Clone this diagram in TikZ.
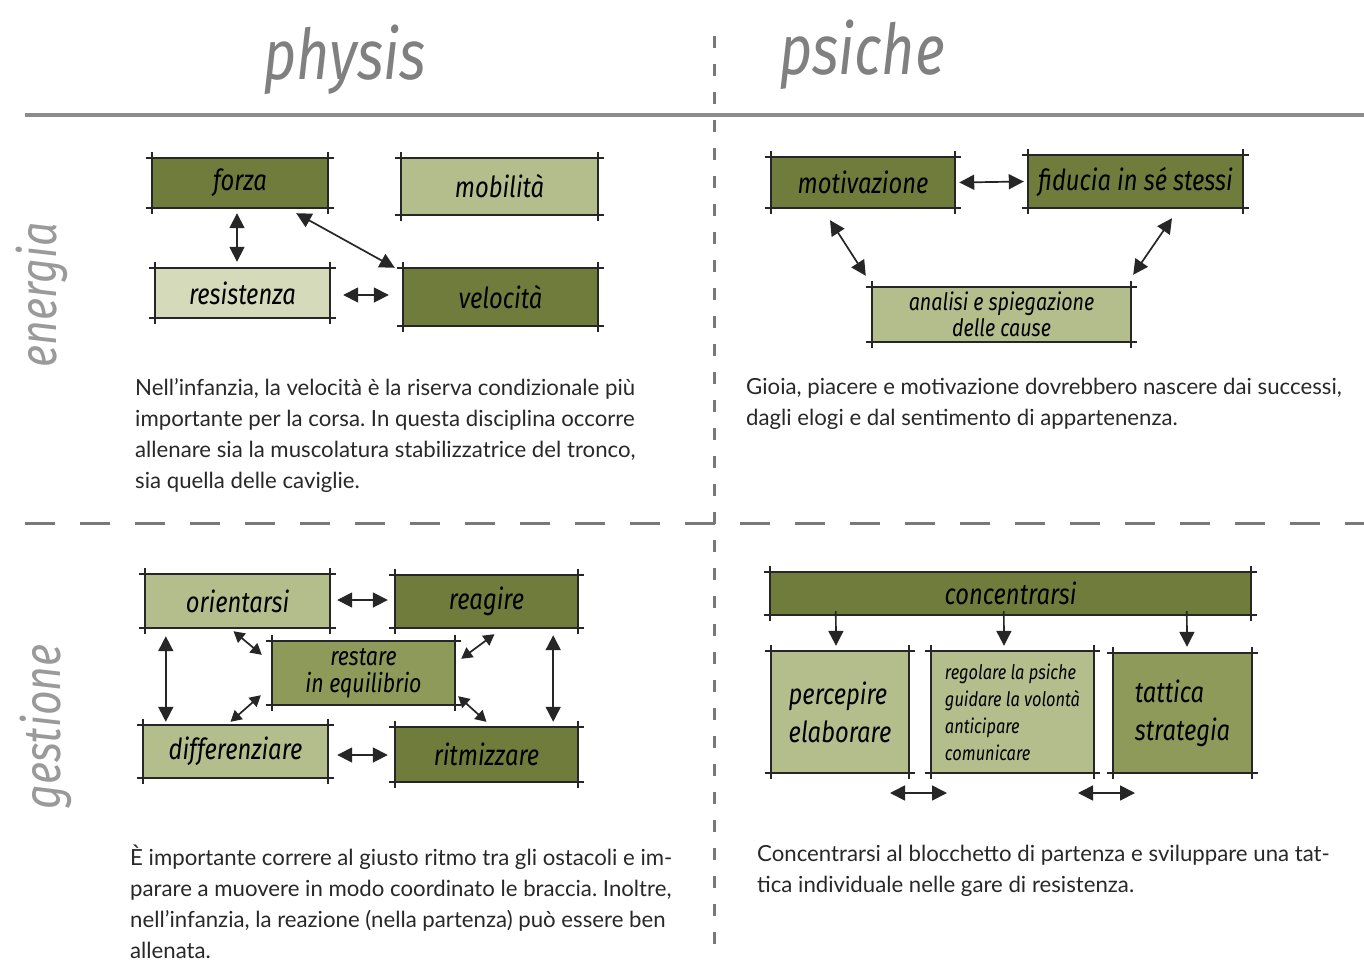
\documentclass[tikz,border=0pt]{standalone}
\usepackage{fontspec}
\setmainfont{Lato}
\newfontfamily\hand{Fira Sans}[FakeStretch=0.82]
\usetikzlibrary{arrows.meta,calc}
\definecolor{gdark}{RGB}{112,124,60}
\definecolor{gmed}{RGB}{142,154,90}
\definecolor{glight}{RGB}{180,190,140}
\definecolor{glighter}{RGB}{212,218,186}
\definecolor{headgray}{RGB}{128,128,128}
\definecolor{linegray}{RGB}{120,120,120}
\definecolor{textgray}{RGB}{40,40,40}
\frenchspacing
\tikzset{
  box/.style={fill=#1, inner sep=0pt, align=center, text=black,
    font=\hand\itshape\fontsize{29}{30}\selectfont},
  edge/.style={line width=1.8pt, black!85},
  arr/.style={line width=1.7pt, black!85,
    {Triangle[length=15pt,width=15pt]}-{Triangle[length=15pt,width=15pt]}},
  sarr/.style={line width=1.7pt, black!85,
    {Triangle[length=11pt,width=12pt]}-{Triangle[length=11pt,width=12pt]}},
  darr/.style={line width=1.7pt, black!85, -{Triangle[length=15pt,width=15pt]}},
  body/.style={anchor=north west, inner sep=0pt, align=left, text=textgray,
    font=\fontsize{22.2}{31}\selectfont},
  head/.style={text=headgray, inner sep=0pt, font=\hand\itshape\fontsize{70}{72}\selectfont},
  side/.style={text=headgray!80, inner sep=0pt, rotate=90, font=\hand\itshape\fontsize{52}{54}\selectfont}
}
\newcommand\skframe[1]{%
  \draw[edge] ([xshift=-6pt]#1.north west) -- ([xshift=6pt]#1.north east);
  \draw[edge] ([xshift=-6pt]#1.south west) -- ([xshift=6pt]#1.south east);
  \draw[edge] ([yshift=6pt]#1.north west) -- ([yshift=-6pt]#1.south west);
  \draw[edge] ([yshift=6pt]#1.north east) -- ([yshift=-6pt]#1.south east);}
\begin{document}
\begin{tikzpicture}[x=1pt,y=-1pt]
\useasboundingbox[fill=white] (0,0) rectangle (1364,961);
% grid lines
\draw[line width=4pt, linegray!85] (25,115) -- (1364,115);
\draw[line width=3pt, linegray, dash pattern=on 12pt off 16pt] (714,36) -- (714,945);
\draw[line width=3pt, linegray, dash pattern=on 30pt off 25pt] (25,523) -- (1364,523);
% headings
\node[head] (hphy) at (345,60) {physis};
\node[head] (hpsi) at (862,55) {psiche};
\node[side] (senergia) at (42,295) {energia};
\node[side] (sgest) at (46,727) {gestione};
% energia / physis
\node[box=gdark, minimum width=176pt, minimum height=50pt] (forza) at (240,183) {forza};
\node[box=glight, minimum width=197pt, minimum height=57pt] (mob) at (499.5,186.5) {mobilità};
\node[box=glighter, minimum width=175pt, minimum height=50pt] (res) at (242.5,293) {resistenza};
\node[box=gdark, minimum width=195pt, minimum height=58pt] (vel) at (500.5,297) {velocità};
\skframe{forza}\skframe{mob}\skframe{res}\skframe{vel}
\draw[arr] ($(forza.south)+(-3,5)$) -- ($(res.north)+(-5.5,-6)$);
\draw[arr] ($(forza.south east)+(-32,5)$) -- ($(vel.north west)+(-8,0)$);
\draw[arr] ($(res.east)+(13,2)$) -- ($(vel.west)+(-14,-2)$);
% energia / psiche
\node[box=gdark, minimum width=184pt, minimum height=51pt] (mot) at (863,182.5) {motivazione};
\node[box=gdark, minimum width=215pt, minimum height=53pt] (fid) at (1135.5,181.5) {fiducia in sé stessi};
\node[box=glight, minimum width=259pt, minimum height=55pt,
  font=\hand\itshape\fontsize{24}{26}\selectfont] (ana) at (1001.5,314.5) {analisi e spiegazione\\delle cause};
\skframe{mot}\skframe{fid}\skframe{ana}
\draw[arr] ($(mot.east)+(4,0)$) -- ($(fid.west)+(-4,0)$);
\draw[arr] ($(mot.south)+(-33,12)$) -- ($(ana.north west)+(-6,-11)$);
\draw[arr] ($(fid.south)+(36.5,10)$) -- ($(ana.north east)+(2,-12)$);
% body texts
\node[body] (t1) at (135,378) {Nell’infanzia, la velocità è la riserva condizionale più\\
importante per la corsa. In questa disciplina occorre\\
allenare sia la muscolatura stabilizzatrice del tronco,\\
sia quella delle caviglie.};
\node[body] (t2) at (746,378) {Gioia, piacere e motivazione dovrebbero nascere dai successi,\\
dagli elogi e dal sentimento di appartenenza.};
% gestione / physis
\node[box=glight, minimum width=185pt, minimum height=54pt] (ori) at (237.5,601) {orientarsi};
\node[box=gdark, minimum width=183pt, minimum height=53pt] (rea) at (486.5,601.5) {reagire};
\node[box=gmed, minimum width=183pt, minimum height=64pt,
  font=\hand\itshape\fontsize{26}{27}\selectfont] (rest) at (363.5,673) {restare\\in equilibrio};
\node[box=glight, minimum width=185pt, minimum height=53pt] (dif) at (235.5,751.5) {differenziare};
\node[box=gdark, minimum width=183pt, minimum height=55pt] (rit) at (486.5,754.5) {ritmizzare};
\skframe{ori}\skframe{rea}\skframe{rest}\skframe{dif}\skframe{rit}
\draw[arr] ($(ori.east)+(7,-1)$) -- ($(rea.west)+(-7,-1.5)$);
\draw[arr] ($(dif.east)+(9,3.5)$) -- ($(rit.west)+(-7,0.5)$);
\draw[arr] ($(ori.south west)+(21,8)$) -- ($(dif.north west)+(23,-3)$);
\draw[arr] ($(rea.south east)+(-25,7)$) -- ($(rit.north east)+(-25,-5)$);
\draw[sarr] ($(ori.south)+(-4,3)$) -- ($(rest.north west)+(-10,14)$);
\draw[sarr] ($(rea.south)+(8,6)$) -- ($(rest.north east)+(6,18)$);
\draw[sarr] ($(dif.north)+(-5,-3)$) -- ($(rest.south west)+(-11,-10)$);
\draw[sarr] ($(rit.north)+(0,-5)$) -- ($(rest.south east)+(3,-9)$);
% gestione / psiche
\node[box=gdark, minimum width=481pt, minimum height=43pt] (conc) at (1010.5,593.5) {concentrarsi};
\node[box=glight, minimum width=138pt, minimum height=122pt, align=left,
  font=\hand\itshape\fontsize{29}{38}\selectfont] (perc) at (840,712) {percepire\\elaborare};
\node[box=glight, minimum width=163pt, minimum height=122pt, align=left,
  font=\hand\itshape\fontsize{20}{27}\selectfont] (reg) at (1012.5,712) {regolare la psiche\\guidare la volontà\\anticipare\\comunicare};
\node[box=gmed, minimum width=139pt, minimum height=120pt, align=left,
  font=\hand\itshape\fontsize{29}{38}\selectfont] (tat) at (1182.5,713) {tattica\\strategia};
\skframe{conc}\skframe{perc}\skframe{reg}\skframe{tat}
\draw[darr] ($(conc.south west)+(66,-4)$) -- ($(perc.north)+(-4,-5)$);
\draw[darr] ($(conc.south west)+(234,-4)$) -- ($(reg.north)+(-8.5,-5)$);
\draw[darr] ($(conc.south west)+(417,-4)$) -- ($(tat.north)+(4.5,-6)$);
\coordinate (b1a) at (890,793);
\coordinate (b1b) at (947,793);
\coordinate (b2a) at (1078,793);
\coordinate (b2b) at (1135,793);
\draw[arr] (b1a) -- (b1b);
\draw[arr] (b2a) -- (b2b);
\node[body] (t3) at (130,845) {È importante correre al giusto ritmo tra gli ostacoli e im-\\
parare a muovere in modo coordinato le braccia. Inoltre,\\
nell’infanzia, la reazione (nella partenza) può essere ben\\
allenata.};
\node[body] (t4) at (757,845) {Concentrarsi al blocchetto di partenza e sviluppare una tat-\\
tica individuale nelle gare di resistenza.};
\end{tikzpicture}
\end{document}
